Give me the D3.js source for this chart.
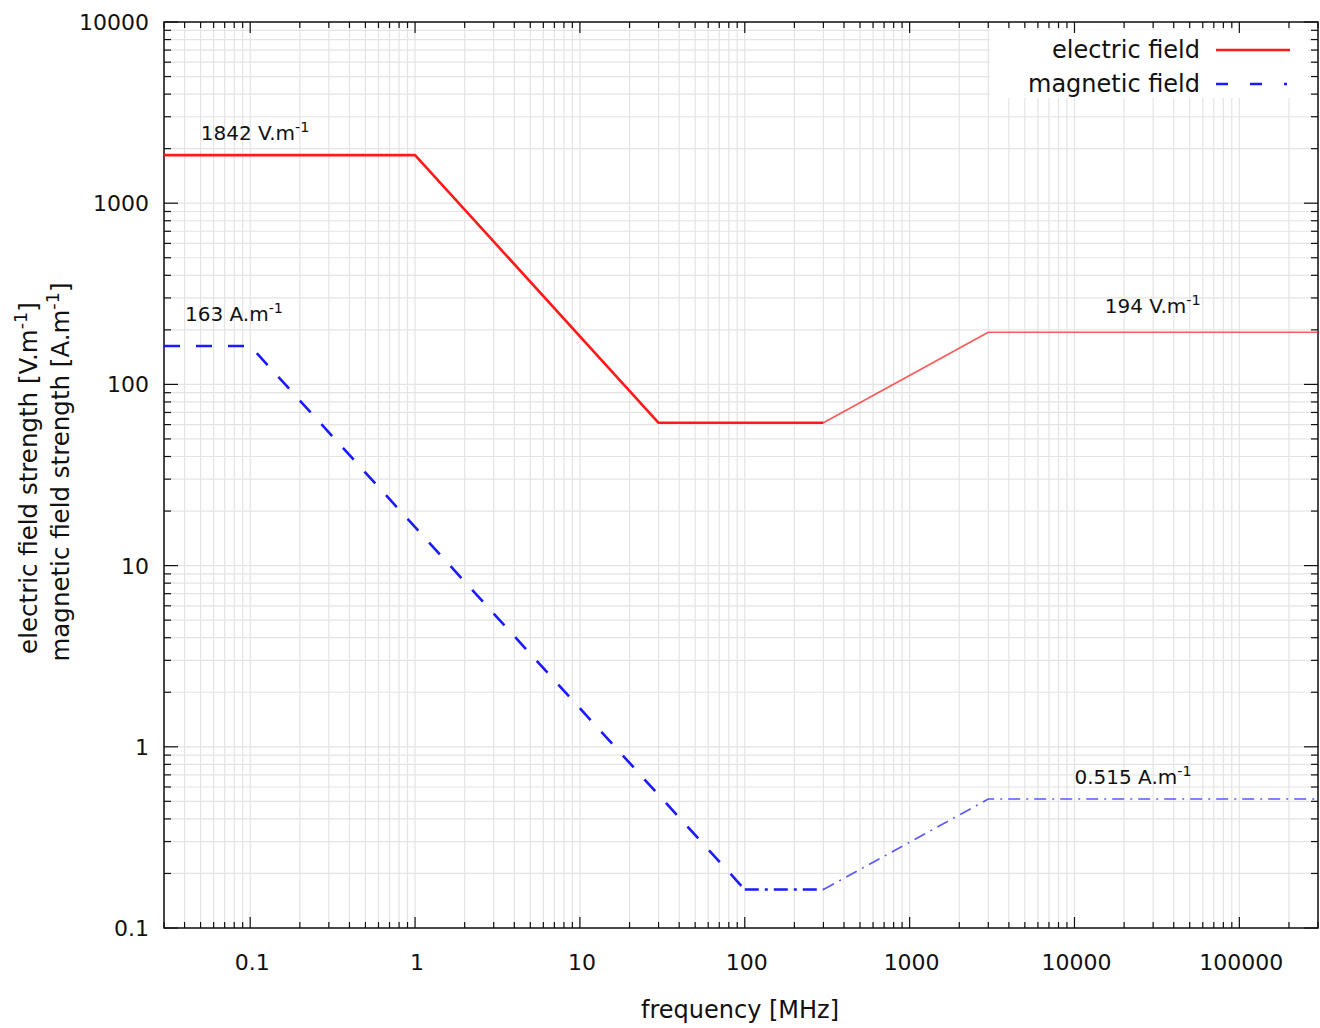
<!DOCTYPE html>
<html>
<head>
<meta charset="utf-8">
<script src="https://cdn.jsdelivr.net/npm/d3@7"></script>
<style>
  body { margin: 0; background: #fff; }
  text { font-family: "DejaVu Sans", Verdana, sans-serif; fill: #111; }
</style>
</head>
<body>
<div id="chart"></div>
<script>
// frequency [MHz] / field strength points, split where the line style changes
var electricLow = [[0.03, 1842], [1, 1842], [30, 61.4], [300, 61.4]];
var electricHigh = [[300, 61.4], [3000, 194], [300000, 194]];
var magneticDash = [[0.03, 163], [0.1, 163], [100, 0.163]];
var magneticMid = [[100, 0.163], [300, 0.163]];
var magneticHigh = [[300, 0.163], [3000, 0.515], [300000, 0.515]];

var xTicks = [0.1, 1, 10, 100, 1000, 10000, 100000];
var xTickLabels = ['0.1', '1', '10', '100', '1000', '10000', '100000'];
var yTicks = [0.1, 1, 10, 100, 1000, 10000];
var yTickLabels = ['0.1', '1', '10', '100', '1000', '10000'];

var notes = [
    {x: 0.0502, y: 2230, text: '1842 V.m', sup: '-1'},
    {x: 0.0402, y: 224, text: '163 A.m', sup: '-1'},
    {x: 15270, y: 248, text: '194 V.m', sup: '-1'},
    {x: 10000, y: 0.624, text: '0.515 A.m', sup: '-1'}
];

var width = 1320,
    height = 1028,
    margin = {left: 164, right: 2, top: 22, bottom: 100};

var svg = d3.select('#chart').append('svg')
    .attr('width', width)
    .attr('height', height);

var xScale = d3.scaleLog().domain([0.03, 300000]).range([margin.left, width - margin.right]);
var yScale = d3.scaleLog().domain([0.1, 10000]).range([height - margin.bottom, margin.top]);

var x0 = xScale.range()[0], x1 = xScale.range()[1];
var y0 = yScale.range()[0], y1 = yScale.range()[1];

// all tick positions (majors + minors)
var xAll = [], yAll = [];
for (var e = -2; e <= 5; e++) {
    for (var m = 1; m <= 9; m++) {
        var v = m * Math.pow(10, e);
        if (v >= 0.03 * 0.999 && v <= 300000 * 1.001) xAll.push(v);
    }
}
for (var e2 = -1; e2 <= 4; e2++) {
    for (var m2 = 1; m2 <= 9; m2++) {
        var v2 = m2 * Math.pow(10, e2);
        if (v2 <= 10000 * 1.001) yAll.push(v2);
    }
}
var isMajor = (v) => Math.abs(Math.log10(v) - Math.round(Math.log10(v))) < 1e-6;

// grid
var grid = svg.append('g').attr('class', 'grid');
grid.selectAll('line.gx').data(xAll).enter().append('line')
    .attr('x1', (d) => xScale(d)).attr('x2', (d) => xScale(d))
    .attr('y1', y0).attr('y2', y1)
    .attr('stroke', '#e4e4e4').attr('stroke-width', 1.2);
grid.selectAll('line.gy').data(yAll).enter().append('line')
    .attr('y1', (d) => yScale(d)).attr('y2', (d) => yScale(d))
    .attr('x1', x0).attr('x2', x1)
    .attr('stroke', '#e4e4e4').attr('stroke-width', 1.2);

// legend background covers the grid
svg.append('rect')
    .attr('x', 990).attr('y', 30).attr('width', 318).attr('height', 68)
    .attr('fill', '#fff');

// inward ticks on all four sides
var ticks = svg.append('g').attr('stroke', '#111').attr('stroke-width', 1.2);
xAll.forEach(function(d) {
    var len = isMajor(d) ? 11 : 6;
    ticks.append('line').attr('x1', xScale(d)).attr('x2', xScale(d)).attr('y1', y0).attr('y2', y0 - len);
    ticks.append('line').attr('x1', xScale(d)).attr('x2', xScale(d)).attr('y1', y1).attr('y2', y1 + len);
});
yAll.forEach(function(d) {
    var len = isMajor(d) ? 14 : 7;
    ticks.append('line').attr('y1', yScale(d)).attr('y2', yScale(d)).attr('x1', x0).attr('x2', x0 + len);
    ticks.append('line').attr('y1', yScale(d)).attr('y2', yScale(d)).attr('x1', x1).attr('x2', x1 - len);
});

svg.append('rect')
    .attr('x', x0).attr('y', y1).attr('width', x1 - x0).attr('height', y0 - y1)
    .attr('fill', 'none').attr('stroke', '#111').attr('stroke-width', 1.5);

// tick labels
svg.append('g').selectAll('text').data(xTicks).enter().append('text')
    .attr('x', (d) => xScale(d) + 2)
    .attr('y', y0 + 42)
    .attr('text-anchor', 'middle')
    .style('font-size', '22px')
    .text((d, i) => xTickLabels[i]);

svg.append('g').selectAll('text').data(yTicks).enter().append('text')
    .attr('x', x0 - 15)
    .attr('y', (d) => yScale(d) + 8)
    .attr('text-anchor', 'end')
    .style('font-size', '22px')
    .text((d, i) => yTickLabels[i]);

// axis titles
svg.append('text')
    .attr('x', 740).attr('y', 1018)
    .attr('text-anchor', 'middle')
    .style('font-size', '24px')
    .text('frequency [MHz]');

function supText(sel, main, sup, size) {
    sel.append('tspan').text(main);
    sel.append('tspan').attr('dy', -size * 0.42).style('font-size', (size * 0.72) + 'px').text(sup);
}

var yl1 = svg.append('text')
    .attr('transform', 'translate(37,478) rotate(-90)')
    .attr('text-anchor', 'middle')
    .style('font-size', '24.5px');
supText(yl1, 'electric field strength [V.m', '-1', 24.5);
yl1.append('tspan').attr('dy', 24.5 * 0.42).text(']');

var yl2 = svg.append('text')
    .attr('transform', 'translate(69,472) rotate(-90)')
    .attr('text-anchor', 'middle')
    .style('font-size', '24.5px');
supText(yl2, 'magnetic field strength [A.m', '-1', 24.5);
yl2.append('tspan').attr('dy', 24.5 * 0.42).text(']');

// lines
var line = d3.line().x((d) => xScale(d[0])).y((d) => yScale(d[1]));
var plot = svg.append('g').attr('fill', 'none').attr('stroke-linejoin', 'round');

plot.append('path').datum(electricLow).attr('d', line)
    .attr('stroke', '#ff1a1a').attr('stroke-width', 2.6);
plot.append('path').datum(electricHigh).attr('d', line)
    .attr('stroke', '#ff3030').attr('stroke-opacity', 0.8).attr('stroke-width', 1.6);

plot.append('path').datum(magneticDash).attr('d', line)
    .attr('stroke', '#1a1aff').attr('stroke-width', 2.6).attr('stroke-dasharray', '16,16');
plot.append('path').datum(magneticMid).attr('d', line)
    .attr('stroke', '#1a1aff').attr('stroke-width', 2.6).attr('stroke-dasharray', '14,6,3,6');
plot.append('path').datum(magneticHigh).attr('d', line)
    .attr('stroke', '#3030ff').attr('stroke-opacity', 0.8).attr('stroke-width', 1.6).attr('stroke-dasharray', '12,6,2,6');

// annotations
notes.forEach(function(n) {
    var t = svg.append('text')
        .attr('x', xScale(n.x)).attr('y', yScale(n.y))
        .style('font-size', '20px');
    supText(t, n.text, n.sup, 20);
});

// legend
var legend = [
    {label: 'electric field', y: 50, color: '#ff1a1a', dash: null},
    {label: 'magnetic field', y: 84, color: '#1a1aff', dash: '12,22,12,22,3'}
];
legend.forEach(function(l) {
    svg.append('text')
        .attr('x', 1200).attr('y', l.y + 8)
        .attr('text-anchor', 'end')
        .style('font-size', '24px')
        .text(l.label);
    svg.append('line')
        .attr('x1', 1216).attr('x2', 1290).attr('y1', l.y).attr('y2', l.y)
        .attr('stroke', l.color).attr('stroke-width', 2.6)
        .attr('stroke-dasharray', l.dash);
});
</script>
</body>
</html>
